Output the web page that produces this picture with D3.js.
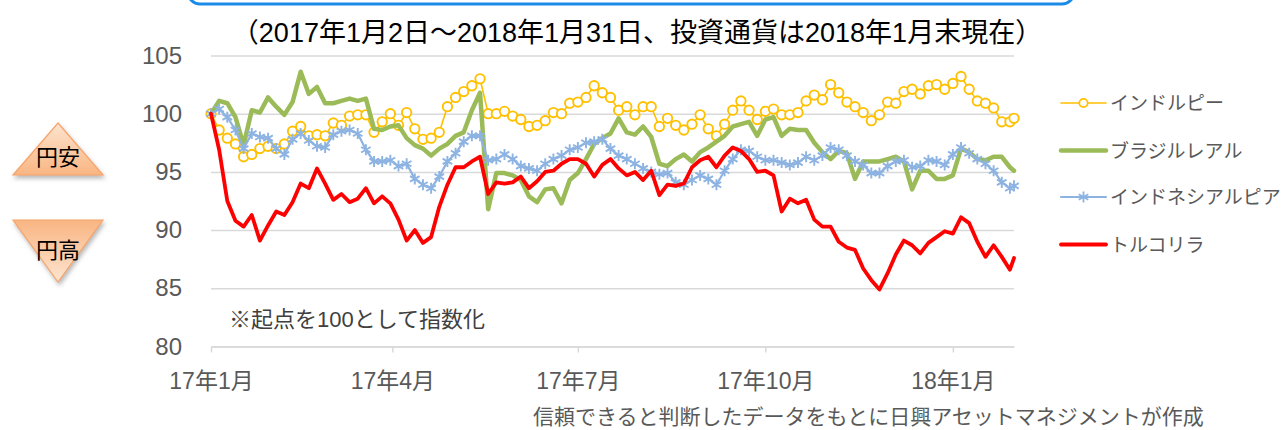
<!DOCTYPE html>
<html>
<head>
<meta charset="utf-8">
<script src="https://cdn.jsdelivr.net/npm/d3@7"></script>
<style>
body { margin: 0; background: #fff; }
text { font-family: "Liberation Sans", "Noto Sans CJK JP", sans-serif; }
</style>
</head>
<body>
<div id="chart"></div>
<script>
// sample dates: every 4 days from 2 Jan 2017, plus the last day
var dates = d3.utcDay.range(new Date(Date.UTC(2017, 0, 2)), new Date(Date.UTC(2018, 0, 31)), 4);
dates.push(new Date(Date.UTC(2018, 0, 31)));

var inr = [100.0, 98.6, 97.9, 97.4, 96.3, 96.5, 97.0, 97.2, 97.0, 97.4, 98.5, 98.9, 98.1, 98.2, 98.1, 99.2, 99.0, 99.8, 99.9, 99.9,
    98.4, 99.3, 100.0, 99.0, 100.1, 98.7, 97.8, 97.9, 98.4, 100.6, 101.4, 101.9, 102.4, 103.0, 100.0, 100.0,
    100.2, 99.8, 99.5, 98.9, 99.0, 99.4, 100.1, 100.0, 100.9, 101.0, 101.4, 102.4, 101.8, 101.4, 100.3, 100.6, 99.9, 100.6, 100.6,
    98.9, 99.6, 99.0, 98.6, 99.1, 99.9, 98.7, 98.1, 99.1, 100.3, 101.1, 100.3, 99.5, 100.2,
    100.4, 99.9, 99.9, 100.1, 101.1, 101.6, 101.2, 102.5, 101.8, 101.0, 100.6, 100.1, 99.4, 99.9, 101.0, 100.9, 101.9, 102.1,
    101.7, 102.4, 102.5, 102.1, 102.6, 103.2, 102.1, 101.1, 100.9, 100.5, 99.3, 99.3, 99.6];

var brl = [100.0, 101.1, 100.9, 99.7, 97.3, 100.3, 100.1, 101.4, 100.6, 99.9, 101.0, 103.6, 101.7, 102.3, 100.9, 100.9, 101.1, 101.3, 101.1, 101.3,
    98.7, 98.6, 98.9, 99.0, 97.9, 97.3, 97.0, 96.4, 97.0, 97.4, 98.1, 98.4, 100.3, 101.8, 91.8, 94.9,
    94.9, 94.7, 94.3, 92.9, 92.4, 93.5, 93.6, 92.3, 94.3, 94.9, 96.1, 97.4, 97.9, 98.3, 99.6, 98.4, 98.2, 98.9, 98.0,
    95.7, 95.5, 96.1, 96.5, 95.9, 96.7, 97.1, 97.6, 98.1, 98.9, 99.1, 99.3, 98.1, 99.5,
    99.7, 98.1, 98.7, 98.6, 98.6, 97.5, 96.7, 96.1, 96.8, 96.6, 94.4, 95.9, 95.9, 95.9, 96.1, 96.3, 95.9, 93.5,
    95.1, 95.1, 94.4, 94.4, 94.7, 97.0, 96.7, 96.1, 96.0, 96.3, 96.3, 95.4, 95.1];

var idr = [100.0, 100.4, 99.7, 98.6, 97.0, 98.3, 98.0, 97.9, 97.0, 96.5, 97.8, 98.3, 97.7, 97.2, 97.1, 98.2, 98.5, 98.6, 98.3, 96.9,
    95.9, 95.9, 96.0, 95.5, 95.7, 94.4, 93.9, 93.6, 94.6, 95.9, 96.6, 97.6, 98.1, 98.1, 96.0, 96.1,
    96.5, 96.1, 95.5, 95.3, 95.1, 95.7, 96.1, 96.4, 96.9, 97.1, 97.5, 97.6, 97.8, 97.0, 96.4, 96.1, 95.7, 95.3, 95.0,
    94.8, 94.9, 94.1, 93.9, 94.3, 94.7, 94.4, 93.9, 95.1, 96.1, 96.9, 96.8, 96.3, 96.0,
    96.0, 95.8, 95.6, 95.8, 96.3, 96.0, 96.4, 97.1, 96.9, 96.4, 95.9, 95.6, 94.9, 94.9, 95.5, 95.9, 96.0, 95.4,
    95.5, 96.0, 95.9, 95.6, 96.5, 97.1, 96.6, 96.1, 95.7, 95.1, 94.1, 93.6, 93.8];

var tryl = [100.0, 96.9, 92.5, 90.8, 90.3, 91.3, 89.1, 90.4, 91.6, 91.3, 92.4, 94.0, 93.6, 95.3, 94.0, 92.6, 93.1, 92.4, 92.7, 93.6,
    92.3, 92.9, 92.3, 90.9, 89.1, 90.0, 88.9, 89.4, 92.0, 93.9, 95.4, 95.4, 95.9, 96.3, 93.1, 94.1,
    94.0, 94.1, 94.6, 93.6, 94.2, 95.0, 95.1, 95.7, 96.1, 96.1, 95.7, 94.6, 95.6, 96.1, 95.3, 94.7, 95.0, 94.3, 95.1,
    93.0, 93.9, 93.8, 94.0, 95.4, 96.0, 96.3, 95.4, 96.4, 97.1, 96.8, 96.1, 95.0, 95.1,
    94.7, 91.6, 92.7, 92.3, 92.6, 90.9, 90.3, 90.3, 89.0, 88.5, 88.3, 86.7, 85.7, 84.9, 86.3, 87.9, 89.1, 88.7,
    88.0, 88.9, 89.4, 89.9, 89.7, 91.1, 90.6, 89.0, 87.7, 88.7, 87.7, 86.6, 87.6];

var seriesNames = ['インドルピー', 'ブラジルレアル', 'インドネシアルピア', 'トルコリラ'];
var yTicks = [80, 85, 90, 95, 100, 105];
var xTickDates = [new Date(Date.UTC(2017, 0, 2)), new Date(Date.UTC(2017, 3, 1)), new Date(Date.UTC(2017, 6, 1)),
    new Date(Date.UTC(2017, 9, 1)), new Date(Date.UTC(2018, 0, 1))];
var xTickLabels = ['17年1月', '17年4月', '17年7月', '17年10月', '18年1月'];

var width = 1281, height = 430;
var plotLeft = 211, plotRight = 1014, plotTop = 55.5, plotBottom = 346.5;

var svg = d3.select('#chart').append('svg')
    .attr('width', width)
    .attr('height', height);

var defs = svg.append('defs');
var shadow = defs.append('filter').attr('id', 'shadow')
    .attr('x', '-20%').attr('y', '-20%').attr('width', '140%').attr('height', '150%');
shadow.append('feDropShadow')
    .attr('dx', 1.5).attr('dy', 3).attr('stdDeviation', 2)
    .attr('flood-color', '#7f7f7f').attr('flood-opacity', 0.55);

function gradient(id, c1, c2) {
    var g = defs.append('linearGradient').attr('id', id)
        .attr('x1', 0).attr('y1', 0).attr('x2', 0).attr('y2', 1);
    g.append('stop').attr('offset', '0%').attr('stop-color', c1);
    g.append('stop').attr('offset', '100%').attr('stop-color', c2);
}
gradient('upFill', '#fde4d0', '#f9b582');
gradient('downFill', '#f9b582', '#fde4d0');

// title box (only its lower edge shows)
svg.append('rect')
    .attr('x', 188).attr('y', -40)
    .attr('width', 886).attr('height', 44)
    .attr('rx', 12)
    .attr('fill', 'none')
    .attr('stroke', '#1a8ce8')
    .attr('stroke-width', 3);

svg.append('text')
    .attr('x', 637).attr('y', 42)
    .attr('text-anchor', 'middle')
    .attr('font-size', 27)
    .attr('fill', '#000')
    .text('（2017年1月2日～2018年1月31日、投資通貨は2018年1月末現在）');

var x = d3.scaleUtc()
    .domain([new Date(Date.UTC(2017, 0, 2)), new Date(Date.UTC(2018, 0, 31))])
    .range([plotLeft, plotRight]);

var y = d3.scaleLinear()
    .domain([80, 105])
    .range([plotBottom, plotTop]);

// y axis with gridlines
var yAxis = svg.append('g')
    .attr('transform', 'translate(' + plotLeft + ',0)')
    .call(d3.axisLeft(y).tickValues(yTicks).tickSize(-(plotRight - plotLeft)).tickPadding(29));
yAxis.select('.domain').remove();
yAxis.selectAll('line').attr('stroke', '#d9d9d9').attr('stroke-width', 1.5);
yAxis.selectAll('text')
    .attr('font-size', 24)
    .attr('fill', '#595959')
    .style('font-family', '"Liberation Sans", sans-serif');

// x axis
var xAxis = svg.append('g')
    .attr('transform', 'translate(0,' + plotBottom + ')')
    .call(d3.axisBottom(x).tickValues(xTickDates).tickSize(6).tickSizeOuter(0).tickPadding(20)
        .tickFormat(function(d, i) { return xTickLabels[i]; }));
xAxis.select('.domain').attr('stroke', '#d9d9d9').attr('stroke-width', 1.5);
xAxis.selectAll('line').attr('stroke', '#d9d9d9').attr('stroke-width', 1.5);
xAxis.selectAll('text')
    .attr('font-size', 23)
    .attr('fill', '#595959');

var series = [
    { name: seriesNames[0], values: inr, color: '#ffc000', width: 1.6, marker: 'circle' },
    { name: seriesNames[1], values: brl, color: '#9bbb59', width: 4.5, marker: null },
    { name: seriesNames[2], values: idr, color: '#8db3e2', width: 2.2, marker: 'star' },
    { name: seriesNames[3], values: tryl, color: '#ff0000', width: 3.8, marker: null }
];

var line = d3.line()
    .x(function(d, i) { return x(dates[i]); })
    .y(function(d) { return y(d); });

var star = d3.symbol().type(d3.symbolAsterisk).size(85);

series.forEach(function(s) {
    var g = svg.append('g');
    g.append('path')
        .datum(s.values)
        .attr('d', line)
        .attr('fill', 'none')
        .attr('stroke', s.color)
        .attr('stroke-width', s.width)
        .attr('stroke-linejoin', 'round')
        .attr('stroke-linecap', 'round');

    if (s.marker === 'circle') {
        g.selectAll('circle')
            .data(s.values)
            .enter()
            .append('circle')
            .attr('cx', function(d, i) { return x(dates[i]); })
            .attr('cy', function(d) { return y(d); })
            .attr('r', 4.7)
            .attr('fill', '#fff')
            .attr('stroke', s.color)
            .attr('stroke-width', 1.9);
    } else if (s.marker === 'star') {
        g.selectAll('.star')
            .data(s.values)
            .enter()
            .append('path')
            .attr('class', 'star')
            .attr('transform', function(d, i) { return 'translate(' + x(dates[i]) + ',' + y(d) + ')'; })
            .attr('d', star)
            .attr('fill', 'none')
            .attr('stroke', s.color)
            .attr('stroke-width', 1.9);
    }
});

// legend
var legendY = [103, 150.5, 197, 244.5];
series.forEach(function(s, i) {
    var g = svg.append('g').attr('transform', 'translate(0,' + legendY[i] + ')');
    g.append('line')
        .attr('x1', 1061).attr('x2', 1106)
        .attr('stroke', s.color)
        .attr('stroke-width', s.width)
        .attr('stroke-linecap', 'round');
    if (s.marker === 'circle') {
        g.append('circle').attr('cx', 1083.5).attr('r', 4.2)
            .attr('fill', '#fff').attr('stroke', s.color).attr('stroke-width', 1.8);
    } else if (s.marker === 'star') {
        g.append('path').attr('transform', 'translate(1083.5,0)').attr('d', star)
            .attr('fill', 'none').attr('stroke', s.color).attr('stroke-width', 1.8);
    }
    g.append('text')
        .attr('x', 1110).attr('y', 7)
        .attr('font-size', 19)
        .attr('fill', '#595959')
        .text(s.name);
});

// 円安 / 円高 arrows
var up = svg.append('g').attr('filter', 'url(#shadow)');
up.append('path')
    .attr('d', 'M58,123 L103,175 L13,175 Z')
    .attr('fill', 'url(#upFill)')
    .attr('stroke', '#f7a46a')
    .attr('stroke-width', 1.2);
svg.append('text')
    .attr('x', 58).attr('y', 165)
    .attr('text-anchor', 'middle')
    .attr('font-size', 22)
    .attr('fill', '#000')
    .text('円安');

var down = svg.append('g').attr('filter', 'url(#shadow)');
down.append('path')
    .attr('d', 'M13,220 L103,220 L58,282 Z')
    .attr('fill', 'url(#downFill)')
    .attr('stroke', '#f7a46a')
    .attr('stroke-width', 1.2);
svg.append('text')
    .attr('x', 58).attr('y', 258)
    .attr('text-anchor', 'middle')
    .attr('font-size', 22)
    .attr('fill', '#000')
    .text('円高');

// notes
svg.append('text')
    .attr('x', 229).attr('y', 327)
    .attr('font-size', 22)
    .attr('fill', '#404040')
    .text('※起点を100として指数化');

svg.append('text')
    .attr('x', 533).attr('y', 424)
    .attr('font-size', 21)
    .attr('fill', '#595959')
    .text('信頼できると判断したデータをもとに日興アセットマネジメントが作成');
</script>
</body>
</html>
